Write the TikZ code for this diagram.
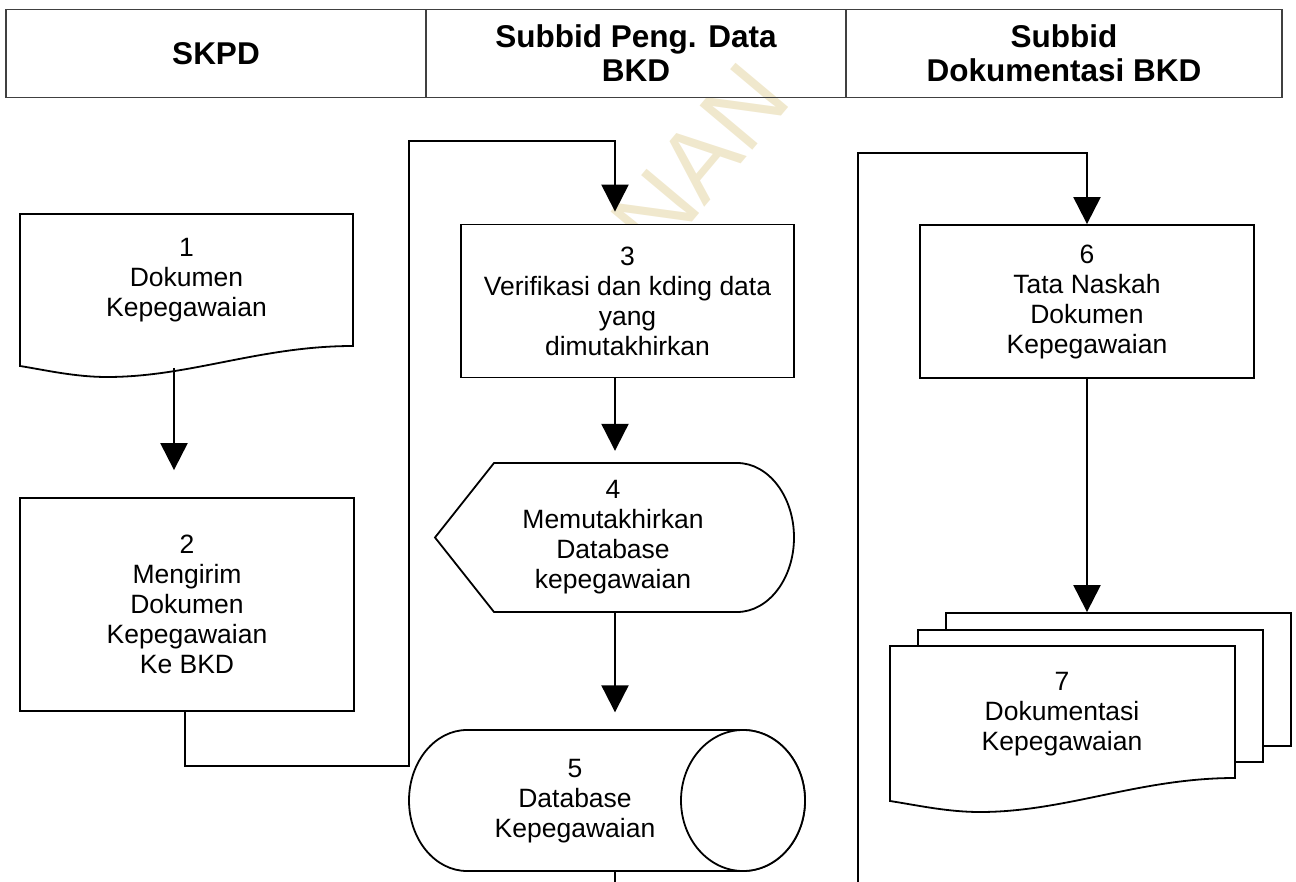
\documentclass[tikz,border=0pt]{standalone}
\usepackage{fontspec}
\setmainfont{Liberation Sans}
\usetikzlibrary{arrows.meta}
\definecolor{wm}{RGB}{240,232,205}
\definecolor{hdr}{RGB}{64,64,64}
\begin{document}
\begin{tikzpicture}[x=1pt,y=-1pt,
  every node/.style={font=\fontsize{26.5}{30}\selectfont, align=center, inner sep=0pt},
  shp/.style={draw=black, line width=1.8pt, fill=white},
  box/.style={shp, rectangle},
  conn/.style={line width=2.2pt},
  arr/.style={conn, -{Triangle[width=27pt,length=27pt]}},
  hcell/.style={draw=hdr, line width=1.4pt, rectangle, minimum height=88pt, font=\fontsize{31.5}{34}\selectfont\bfseries},
  wmark/.style={text=wm, rotate=50, font=\fontsize{100}{100}\selectfont}
]
\useasboundingbox (0,0) rectangle (1296,882);
% watermark
\node[wmark] (wmk) at (700,160) {NAN};
% header
\node[hcell, minimum width=420pt] (h1) at (216,53.5) {SKPD};
\node[hcell, minimum width=420pt] (h2) at (636,53.5) {Subbid Peng. Data\\BKD};
\node[hcell, minimum width=436pt] (h3) at (1064,53.5) {Subbid\\Dokumentasi BKD};
% 1 document
\path[shp] (20,214) -- (353,214) -- (353,346) .. controls (260,346) and (190,377) .. (107,377) .. controls (75,377) and (45,370) .. (20,366) -- cycle;
\node (d1) at (186.5,280) {1\\Dokumen\\Kepegawaian};
% 2 process
\node[box, minimum width=334pt, minimum height=213pt] (b2) at (187,604.5) {2\\Mengirim\\Dokumen\\Kepegawaian\\Ke BKD};
% 3 process
\node[box, minimum width=333pt, minimum height=153pt] (b3) at (627.5,301) {3\\Verifikasi dan kding data\\yang\\dimutakhirkan};
% 4 display
\path[shp] (494,463) -- (737,463) .. controls (768.5,463) and (794,496.4) .. (794,537.5) .. controls (794,578.6) and (768.5,612) .. (737,612) -- (494,612) -- (435,537.5) -- cycle;
\node[minimum height=149pt] (d4) at (613,537.5) {4\\Memutakhirkan\\Database\\kepegawaian};
% 5 direct access storage
\path[shp] (467,730) -- (743,730) .. controls (777.2,730) and (805,761.6) .. (805,800.5) .. controls (805,839.4) and (777.2,871) .. (743,871) -- (467,871) .. controls (435,871) and (409,839.4) .. (409,800.5) .. controls (409,761.6) and (435,730) .. (467,730) -- cycle;
\draw[shp] (743,800.5) ellipse [x radius=62pt, y radius=70.5pt];
\node[minimum height=141pt] (d5) at (575,801) {5\\Database\\Kepegawaian};
% 6 process
\node[box, minimum width=334pt, minimum height=153pt] (b6) at (1087,301.5) {6\\Tata Naskah\\Dokumen\\Kepegawaian};
% 7 multi document
\node[box, minimum width=345pt, minimum height=133pt] (p3) at (1118.5,679.5) {};
\node[box, minimum width=345pt, minimum height=132pt] (p2) at (1090.5,696) {};
\path[shp] (890,646) -- (1235,646) -- (1235,778) .. controls (1139,778) and (1066,812) .. (980,812) .. controls (947,812) and (916,805) .. (890,801) -- cycle;
\node (d7) at (1062,714) {7\\Dokumentasi\\Kepegawaian};
% connectors
\coordinate (w1) at (174,368);
\coordinate (k1) at (409,766);
\coordinate (k2) at (615,141);
\coordinate (e5) at (615,882);
\coordinate (k3) at (858,882);
\coordinate (k4) at (858,153);
\draw[arr, shorten >=27pt] (w1) -- (w1 |- b2.north);
\draw[arr, shorten >=12pt] ([xshift=-2pt]b2.south) |- (k1) |- (k2) -- (k2 |- b3.north);
\draw[arr, shorten >=12pt] (k2 |- b3.south) -- (k2 |- d4.north);
\draw[arr, shorten >=18pt] (k2 |- d4.south) -- (k2 |- d5.north);
\draw[conn] (k2 |- d5.south) -- (e5);
\draw[arr] (k3) -- (k4) -| (b6.north);
\draw[arr] (b6.south) -- (b6.south |- p3.north);
\end{tikzpicture}
\end{document}
